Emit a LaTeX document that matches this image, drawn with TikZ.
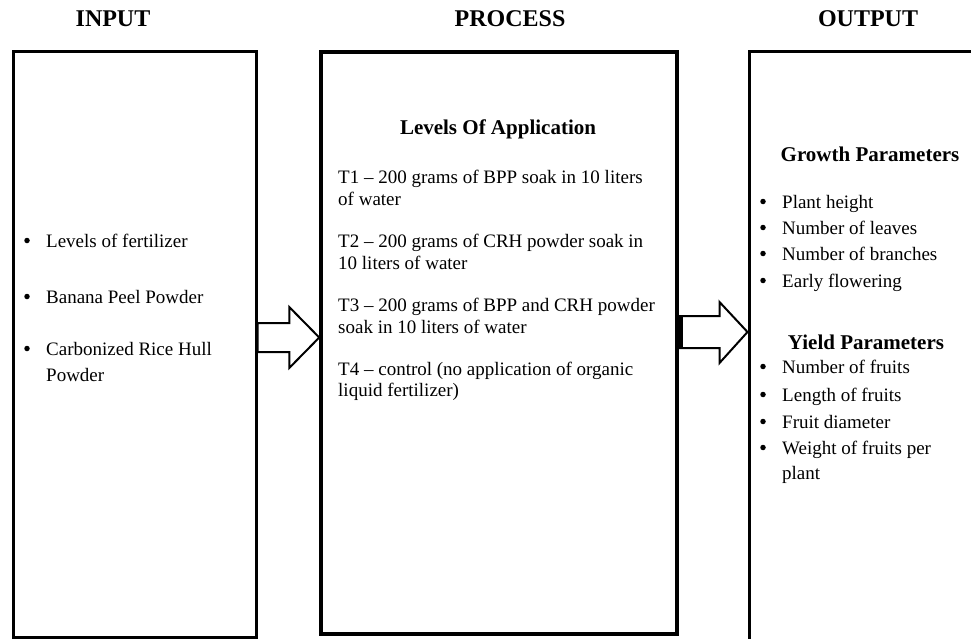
\documentclass[tikz,border=0pt]{standalone}
\usepackage{fontspec}
\setmainfont{Liberation Serif}
\usetikzlibrary{calc}
\begin{document}
\begin{tikzpicture}[x=1pt,y=1pt,
  box/.style={draw, line width=3pt, inner sep=0pt},
  heading/.style={font=\fontsize{24}{28}\selectfont\bfseries, anchor=base, inner sep=0pt},
  subhead/.style={font=\fontsize{21}{25}\selectfont\bfseries, anchor=base, inner sep=0pt},
  body/.style={font=\fontsize{19}{22}\selectfont, anchor=base west, inner sep=0pt},
  bul/.style={circle, fill=black, inner sep=0pt, minimum size=5.5pt, yshift=6.5pt},
  blockarrow/.style={draw, line width=2pt, fill=white, line join=miter}]
\useasboundingbox (0,0) rectangle (971,-639);
\clip (0,0) rectangle (971,-639);
\fill[white] (0,0) rectangle (971,-639);

% headings
\node[heading] (hin) at (113,-27) {INPUT};
\node[heading] (hpr) at (510,-27) {PROCESS};
\node[heading] (hout) at (868,-27) {OUTPUT};

% boxes
\node[box, minimum width=243pt, minimum height=585pt] (inp) at (134.5,-344.5) {};
\node[box, line width=3.5pt, minimum width=356pt, minimum height=582pt] (proc) at (499,-343) {};
\node[box, minimum width=260pt, minimum height=660pt] (outp) at (879,-382) {};

% input list
\node[bul] (ib1) at (27,-247) {};
\node[body] (it1) at (46,-247) {Levels of fertilizer};
\node[bul] (ib2) at (27,-303) {};
\node[body] (it2) at (46,-303) {Banana Peel Powder};
\node[bul] (ib3) at (27,-355) {};
\node[body] (it3a) at (46,-355) {Carbonized Rice Hull};
\node[body] (it3b) at (46,-381) {Powder};

% process text
\node[subhead] (ptitle) at (498,-135) {Levels Of Application};
\node[body] (p1a) at (338,-184) {T1 – 200 grams of BPP soak in 10 liters};
\node[body] (p1b) at (338,-205) {of water};
\node[body] (p2a) at (338,-247) {T2 – 200 grams of CRH powder soak in};
\node[body] (p2b) at (338,-269) {10 liters of water};
\node[body] (p3a) at (338,-311) {T3 – 200 grams of BPP and CRH powder};
\node[body] (p3b) at (338,-333) {soak in 10 liters of water};
\node[body] (p4a) at (338,-375) {T4 – control (no application of organic};
\node[body] (p4b) at (338,-396) {liquid fertilizer)};

% output text
\node[subhead] (gtitle) at (870,-162) {Growth Parameters};
\node[bul] (ob1) at (763,-208) {};
\node[body] (o1) at (782,-208) {Plant height};
\node[bul] (ob2) at (763,-234) {};
\node[body] (o2) at (782,-234) {Number of leaves};
\node[bul] (ob3) at (763,-260) {};
\node[body] (o3) at (782,-260) {Number of branches};
\node[bul] (ob4) at (763,-287) {};
\node[body] (o4) at (782,-287) {Early flowering};

\node[subhead] (ytitle) at (866,-349) {Yield Parameters};
\node[bul] (yb1) at (763,-373) {};
\node[body] (y1) at (782,-373) {Number of fruits};
\node[bul] (yb2) at (763,-401) {};
\node[body] (y2) at (782,-401) {Length of fruits};
\node[bul] (yb3) at (763,-428) {};
\node[body] (y3) at (782,-428) {Fruit diameter};
\node[bul] (yb4) at (763,-454) {};
\node[body] (y4a) at (782,-454) {Weight of fruits per};
\node[body] (y4b) at (782,-479) {plant};

% block arrows
\path (inp.east |- 0,-337.5) coordinate (a1s) (proc.west |- 0,-337.5) coordinate (a1t);
\draw[blockarrow] ($(a1s)+(0,14.5)$) -- ($(a1t)+(-30,14.5)$) -- ($(a1t)+(-30,30.5)$) -- (a1t)
  -- ($(a1t)+(-30,-30.5)$) -- ($(a1t)+(-30,-14.5)$) -- ($(a1s)+(0,-14.5)$) -- cycle;
\path (proc.east |- 0,-332) coordinate (a2s) (outp.west |- 0,-332) coordinate (a2t);
\draw[blockarrow] ($(a2s)+(0,16)$) -- ($(a2t)+(-28,16)$) -- ($(a2t)+(-28,30)$) -- (a2t)
  -- ($(a2t)+(-28,-31)$) -- ($(a2t)+(-28,-16)$) -- ($(a2s)+(0,-16)$) -- cycle;
\fill ($(a2s)+(0,16)$) rectangle ($(a2s)+(4,-16)$);
\end{tikzpicture}
\end{document}
